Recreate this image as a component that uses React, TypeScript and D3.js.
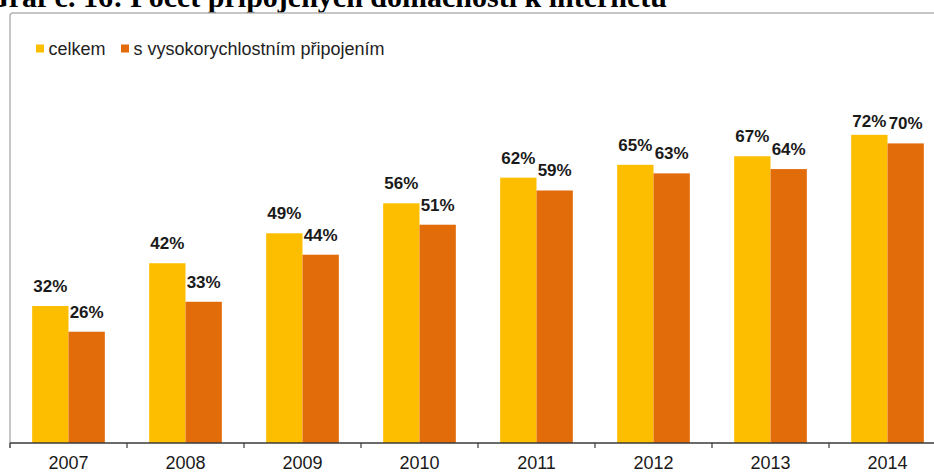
import React from "react";
import * as d3 from "d3";

const years = ["2007", "2008", "2009", "2010", "2011", "2012", "2013", "2014"];
const celkem = [32, 42, 49, 56, 62, 65, 67, 72];
const vysokorychlostni = [26, 33, 44, 51, 59, 63, 64, 70];
const seriesNames = ["celkem", "s vysokorychlostním připojením"];
const seriesColors = ["#FDBE00", "#E36C0A"];
const title = "Graf č. 16: Počet připojených domácností k internetu";

const W = 934;
const H = 473;
const left = 10;
const step = 117;
const baseY = 443;

export default function App() {
  const x0 = d3.scaleBand<string>().domain(years).range([left, left + step * years.length]).padding(0);
  const x1 = d3.scaleBand<string>().domain(seriesNames).range([0, x0.bandwidth()]).paddingInner(0).paddingOuter(0.61);
  const y = d3.scaleLinear().domain([0, 100]).range([baseY, baseY - 428]);
  const series = [celkem, vysokorychlostni];
  const sans = "'Liberation Sans', Arial, sans-serif";

  return (
    <svg width={W} height={H} style={{ position: "absolute", left: 0, top: 0, background: "#fff" }}>
      <rect width={W} height={H} fill="#fff" />
      <text x={667} y={7} textAnchor="end" fontFamily="'Liberation Serif', 'Times New Roman', serif" fontWeight="bold" fontSize={30} fill="#000">
        {title}
      </text>
      <path d={`M${left},${baseY + 5} L${left},16 Q${left},13 13,13 L${W + 5},13`} fill="none" stroke="#b4b4b4" strokeWidth={1.5} />
      {seriesNames.map((s, i) => {
        const lx = i === 0 ? 36 : 121;
        return (
          <g key={s}>
            <rect x={lx} y={44.5} width={8} height={8} fill={seriesColors[i]} />
            <text x={lx + 12.5} y={54.5} fontFamily={sans} fontSize={18} fill="#222">{s}</text>
          </g>
        );
      })}
      {years.map((yr, yi) => (
        <g key={yr}>
          {series.map((vals, si) => {
            const bx = (x0(yr) as number) + (x1(seriesNames[si]) as number);
            const top = y(vals[yi]);
            const ly = Math.max(top - 14, 127);
            return (
              <g key={si}>
                <rect x={bx} y={top} width={x1.bandwidth()} height={baseY - top} fill={seriesColors[si]} />
                <text x={bx + x1.bandwidth() / 2} y={ly} textAnchor="middle" fontFamily={sans} fontWeight="bold" fontSize={17} fill="#1a1a1a">
                  {vals[yi]}%
                </text>
              </g>
            );
          })}
          <text x={(x0(yr) as number) + x0.bandwidth() / 2} y={469} textAnchor="middle" fontFamily={sans} fontSize={18} fill="#1a1a1a">
            {yr}
          </text>
        </g>
      ))}
      <line x1={left} x2={W} y1={baseY} y2={baseY} stroke="#3a3a3a" strokeWidth={1.5} />
      {[...years.map((yr) => x0(yr) as number), left + step * years.length].map((tx, i) => (
        <line key={i} x1={tx} x2={tx} y1={baseY} y2={baseY + 5} stroke="#3a3a3a" strokeWidth={1.2} />
      ))}
    </svg>
  );
}
